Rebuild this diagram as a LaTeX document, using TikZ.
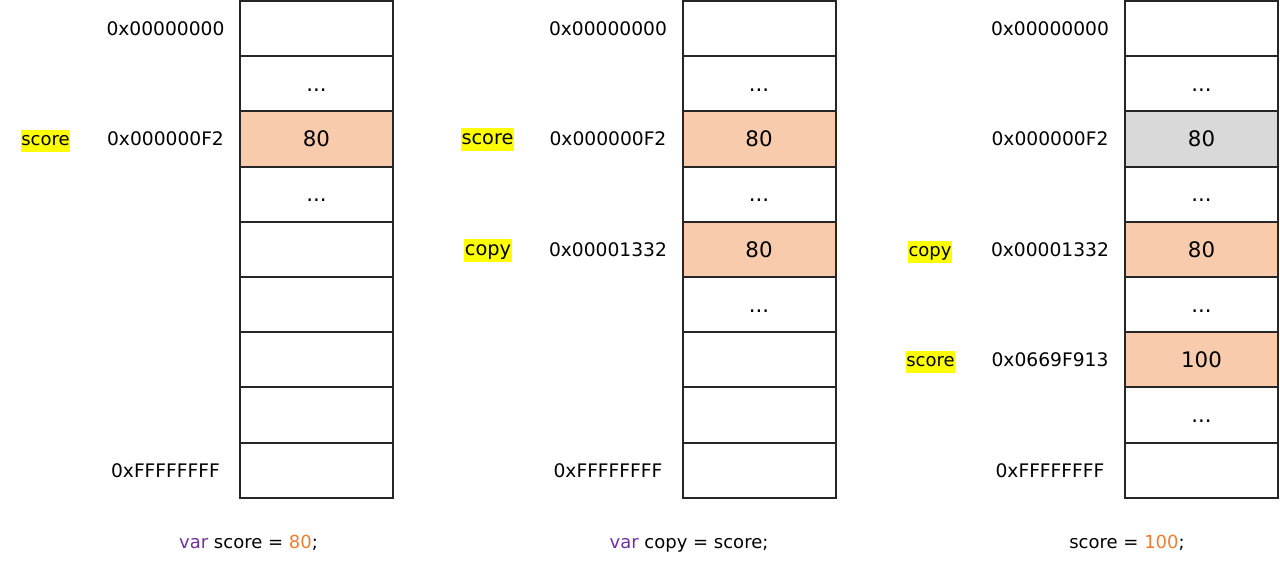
\documentclass[tikz,border=0pt]{standalone}
\usepackage{fontspec}
\setmainfont{DejaVu Sans}
\definecolor{peach}{HTML}{F8CBAD}
\definecolor{oldgray}{HTML}{D9D9D9}
\definecolor{kwpurple}{HTML}{7030A0}
\definecolor{numorange}{HTML}{ED7D31}
\definecolor{marker}{HTML}{FFFF00}
\newcommand{\skipped}{...}
\tikzset{
    cell/.style={draw=black!85, line width=1.5pt, minimum width=114.75pt, minimum height=41.4pt, inner sep=0pt, text height=11.7pt, text depth=0pt, font=\fontsize{16}{18}\selectfont},
    addr/.style={text height=10.2pt, text depth=0pt, font=\fontsize{14}{16}\selectfont},
    varname/.style={fill=marker, inner xsep=0.5pt, inner ysep=1.5pt, text height=9.8pt, text depth=3.2pt, font=\fontsize{13.5}{15}\selectfont},
    varbig/.style={varname, text height=10.9pt, text depth=3.4pt, font=\fontsize{14.5}{16}\selectfont},
    code/.style={text height=10.1pt, text depth=3.4pt, font=\fontsize{13.5}{15}\selectfont}
}
\begin{document}
\begin{tikzpicture}[x=0.75pt, y=-0.75pt]
    \useasboundingbox (0,0) rectangle (1280,566);

    % Memory, step 1
    \foreach \r/\val/\bg in {0//white, 1/\skipped/white, 2/80/peach, 3/\skipped/white, 4//white, 5//white, 6//white, 7//white, 8//white} {
        \node[cell, fill=\bg] (a\r) at (316.5, 28.6+55.2*\r) {\val};
    }
    % Memory, step 2
    \foreach \r/\val/\bg in {0//white, 1/\skipped/white, 2/80/peach, 3/\skipped/white, 4/80/peach, 5/\skipped/white, 6//white, 7//white, 8//white} {
        \node[cell, fill=\bg] (b\r) at (759, 28.6+55.2*\r) {\val};
    }
    % Memory, step 3
    \foreach \r/\val/\bg in {0//white, 1/\skipped/white, 2/80/oldgray, 3/\skipped/white, 4/80/peach, 5/\skipped/white, 6/100/peach, 7/\skipped/white, 8//white} {
        \node[cell, fill=\bg] (c\r) at (1201.5, 28.6+55.2*\r) {\val};
    }

    % Addresses
    \foreach \col/\x/\r/\adr in {
        a/165.5/0/0x00000000, a/165.5/2/0x000000F2, a/165.5/8/0xFFFFFFFF,
        b/608/0/0x00000000, b/608/2/0x000000F2, b/608/4/0x00001332, b/608/8/0xFFFFFFFF,
        c/1050/0/0x00000000, c/1050/2/0x000000F2, c/1050/4/0x00001332, c/1050/6/0x0669F913, c/1050/8/0xFFFFFFFF
    } {
        \node[addr] (\col-addr\r) at (\x, 28.6+55.2*\r) {\adr};
    }

    % Variable names
    \node[varname] (a-score) at (45.5, 141) {score};
    \node[varbig] (b-score) at (487.5, 139.6) {score};
    \node[varbig] (b-copy) at (488, 250.5) {copy};
    \node[varname] (c-copy) at (930, 252) {copy};
    \node[varname] (c-score) at (930.5, 362) {score};

    % Code
    \node[code] (code-a) at (248.5, 544) {\textcolor{kwpurple}{var} score = \textcolor{numorange}{80};};
    \node[code] (code-b) at (689, 544) {\textcolor{kwpurple}{var} copy = score;};
    \node[code] (code-c) at (1127, 544) {score = \textcolor{numorange}{100};};
\end{tikzpicture}
\end{document}
